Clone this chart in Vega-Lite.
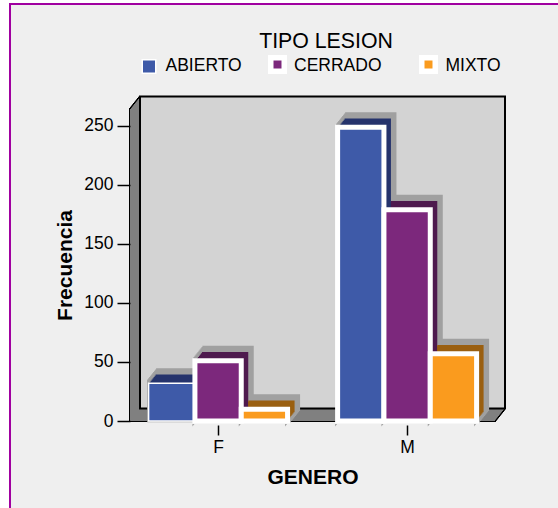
{"$schema":"https://vega.github.io/schema/vega-lite/v6.json","width":365,"height":312,"autosize":{"type":"none"},"padding":{"left":130,"top":109,"right":63,"bottom":87},"background":"white","config":{"font":"Liberation Sans","view":{"stroke":null}},"datasets":{"plano":[{"plano":"pared"}],"casos":[{"genero":"F","tipo":"ABIERTO","frecuencia":32},{"genero":"F","tipo":"CERRADO","frecuencia":51},{"genero":"F","tipo":"MIXTO","frecuencia":10},{"genero":"M","tipo":"ABIERTO","frecuencia":249},{"genero":"M","tipo":"CERRADO","frecuencia":179},{"genero":"M","tipo":"MIXTO","frecuencia":57}]},"layer":[{"data":{"name":"plano"},"encoding":{"x":{"datum":0.534,"type":"quantitative","scale":{"domain":[0.534,2.465]}},"x2":{"datum":2.465},"y":{"datum":0,"type":"quantitative","scale":{"domain":[0,264.4]}},"y2":{"datum":264.4}},"layer":[{"mark":{"type":"rect","fill":"#efefef","stroke":"#a000a0","strokeWidth":2,"xOffset":-120,"x2Offset":100,"yOffset":100,"y2Offset":-105}},{"mark":{"type":"rect","fill":"#808080","stroke":"#000","strokeWidth":2}},{"mark":{"type":"rect","fill":"#808080","stroke":"#000","strokeWidth":2,"xOffset":1,"x2Offset":1,"yOffset":-1.25,"y2Offset":-1.25}},{"mark":{"type":"rect","fill":"#808080","stroke":"#000","strokeWidth":2,"xOffset":2,"x2Offset":2,"yOffset":-2.5,"y2Offset":-2.5}},{"mark":{"type":"rect","fill":"#808080","stroke":"#000","strokeWidth":2,"xOffset":3,"x2Offset":3,"yOffset":-3.75,"y2Offset":-3.75}},{"mark":{"type":"rect","fill":"#808080","stroke":"#000","strokeWidth":2,"xOffset":4,"x2Offset":4,"yOffset":-5,"y2Offset":-5}},{"mark":{"type":"rect","fill":"#808080","stroke":"#000","strokeWidth":2,"xOffset":5,"x2Offset":5,"yOffset":-6.25,"y2Offset":-6.25}},{"mark":{"type":"rect","fill":"#808080","stroke":"#000","strokeWidth":2,"xOffset":6,"x2Offset":6,"yOffset":-7.5,"y2Offset":-7.5}},{"mark":{"type":"rect","fill":"#808080","stroke":"#000","strokeWidth":2,"xOffset":7,"x2Offset":7,"yOffset":-8.75,"y2Offset":-8.75}},{"mark":{"type":"rect","fill":"#808080","stroke":"#000","strokeWidth":2,"xOffset":8,"x2Offset":8,"yOffset":-10,"y2Offset":-10}},{"mark":{"type":"rect","fill":"#808080","stroke":"#000","strokeWidth":2,"xOffset":9,"x2Offset":9,"yOffset":-11.25,"y2Offset":-11.25}},{"mark":{"type":"rect","fill":"#808080"}},{"mark":{"type":"rect","fill":"#808080","xOffset":1,"x2Offset":1,"yOffset":-1.25,"y2Offset":-1.25}},{"mark":{"type":"rect","fill":"#808080","xOffset":2,"x2Offset":2,"yOffset":-2.5,"y2Offset":-2.5}},{"mark":{"type":"rect","fill":"#808080","xOffset":3,"x2Offset":3,"yOffset":-3.75,"y2Offset":-3.75}},{"mark":{"type":"rect","fill":"#808080","xOffset":4,"x2Offset":4,"yOffset":-5,"y2Offset":-5}},{"mark":{"type":"rect","fill":"#808080","xOffset":5,"x2Offset":5,"yOffset":-6.25,"y2Offset":-6.25}},{"mark":{"type":"rect","fill":"#808080","xOffset":6,"x2Offset":6,"yOffset":-7.5,"y2Offset":-7.5}},{"mark":{"type":"rect","fill":"#808080","xOffset":7,"x2Offset":7,"yOffset":-8.75,"y2Offset":-8.75}},{"mark":{"type":"rect","fill":"#808080","xOffset":8,"x2Offset":8,"yOffset":-10,"y2Offset":-10}},{"mark":{"type":"rect","fill":"#808080","xOffset":9,"x2Offset":9,"yOffset":-11.25,"y2Offset":-11.25}},{"mark":{"type":"rect","fill":"#d3d3d3","stroke":"#000","strokeWidth":2,"xOffset":10,"x2Offset":10,"yOffset":-12.5,"y2Offset":-12.5}}]},{"data":{"name":"casos"},"transform":[{"calculate":"(datum.genero==='F'?1:2)+(datum.tipo==='ABIERTO'?-1:datum.tipo==='CERRADO'?0:1)*0.2451","as":"centro"},{"calculate":"datum.centro-0.12255","as":"inicio"},{"calculate":"datum.centro+0.12255","as":"fin"}],"encoding":{"x":{"field":"inicio","type":"quantitative","scale":{"domain":[0.534,2.465],"nice":false,"zero":false},"axis":{"title":"GENERO","values":[1,2],"labelExpr":"datum.value===1?'F':'M'","grid":false,"titleFontSize":21,"titleFontWeight":"bold","titleColor":"#000","titlePadding":11,"labelFontSize":17.5,"labelColor":"#000","labelAngle":0,"labelPadding":3,"labelFlush":false,"tickColor":"#000","tickSize":10,"tickWidth":1.5,"domain":false,"offset":4,"zindex":1}},"x2":{"field":"fin"},"y":{"field":"frecuencia","type":"quantitative","scale":{"domain":[0,264.4],"nice":false},"axis":{"title":"Frecuencia","titleFontSize":21,"titleFontWeight":"bold","titleColor":"#000","titlePadding":8,"labelFontSize":17.5,"labelColor":"#000","labelPadding":4,"tickColor":"#000","tickSize":13,"tickWidth":1.5,"values":[0,50,100,150,200,250],"grid":false,"domain":false,"zindex":1}},"y2":{"datum":0}},"layer":[{"mark":{"type":"rect","stroke":"#a0a0a0","strokeWidth":5,"fill":"#a0a0a0","xOffset":1,"x2Offset":1,"yOffset":-1.25,"y2Offset":-1.25}},{"mark":{"type":"rect","stroke":"#a0a0a0","strokeWidth":5,"fill":"#a0a0a0","xOffset":2,"x2Offset":2,"yOffset":-2.5,"y2Offset":-2.5}},{"mark":{"type":"rect","stroke":"#a0a0a0","strokeWidth":5,"fill":"#a0a0a0","xOffset":3,"x2Offset":3,"yOffset":-3.75,"y2Offset":-3.75}},{"mark":{"type":"rect","stroke":"#a0a0a0","strokeWidth":5,"fill":"#a0a0a0","xOffset":4,"x2Offset":4,"yOffset":-5,"y2Offset":-5}},{"mark":{"type":"rect","stroke":"#a0a0a0","strokeWidth":5,"fill":"#a0a0a0","xOffset":5,"x2Offset":5,"yOffset":-6.25,"y2Offset":-6.25}},{"mark":{"type":"rect","stroke":"#a0a0a0","strokeWidth":5,"fill":"#a0a0a0","xOffset":6,"x2Offset":6,"yOffset":-7.5,"y2Offset":-7.5}},{"mark":{"type":"rect","stroke":"#a0a0a0","strokeWidth":5,"fill":"#a0a0a0","xOffset":7,"x2Offset":7,"yOffset":-8.75,"y2Offset":-8.75}},{"mark":{"type":"rect","stroke":"#a0a0a0","strokeWidth":5,"fill":"#a0a0a0","xOffset":8,"x2Offset":8,"yOffset":-10,"y2Offset":-10}},{"mark":{"type":"rect","stroke":"#a0a0a0","strokeWidth":5,"fill":"#a0a0a0","xOffset":9,"x2Offset":9,"yOffset":-11.25,"y2Offset":-11.25}},{"mark":{"type":"rect","stroke":"#a0a0a0","strokeWidth":5,"fill":"#a0a0a0","xOffset":10,"x2Offset":10,"yOffset":-12.5,"y2Offset":-12.5}},{"encoding":{"fill":{"condition":[{"test":"datum.tipo==='ABIERTO'","value":"#25336c"},{"test":"datum.tipo==='CERRADO'","value":"#4e1a4e"}],"value":"#9a5f10"}},"layer":[{"mark":{"type":"rect","xOffset":1,"x2Offset":1,"yOffset":-1.25,"y2Offset":-1.25}},{"mark":{"type":"rect","xOffset":2,"x2Offset":2,"yOffset":-2.5,"y2Offset":-2.5}},{"mark":{"type":"rect","xOffset":3,"x2Offset":3,"yOffset":-3.75,"y2Offset":-3.75}},{"mark":{"type":"rect","xOffset":4,"x2Offset":4,"yOffset":-5,"y2Offset":-5}},{"mark":{"type":"rect","xOffset":5,"x2Offset":5,"yOffset":-6.25,"y2Offset":-6.25}},{"mark":{"type":"rect","xOffset":6,"x2Offset":6,"yOffset":-7.5,"y2Offset":-7.5}},{"mark":{"type":"rect","xOffset":7,"x2Offset":7,"yOffset":-8.75,"y2Offset":-8.75}}]},{"mark":{"type":"rect","stroke":"white"},"encoding":{"fill":{"field":"tipo","type":"nominal","scale":{"domain":["ABIERTO","CERRADO","MIXTO"],"range":["#3e5aa8","#7c287c","#fa9b1e"]},"legend":{"orient":"none","legendX":10,"legendY":-78,"direction":"horizontal","title":"TIPO LESION","titleAnchor":"middle","titleFontSize":21.3,"titleFontWeight":"normal","titleColor":"#000","titlePadding":3,"labelFontSize":17.5,"labelColor":"#000","symbolType":"square","symbolSize":182,"symbolStrokeColor":"white","symbolOpacity":1,"columnPadding":17.5,"labelOffset":8,"encoding":{"title":{"dx":{"value":6}},"labels":{"dx":{"value":{"expr":"datum.value==='MIXTO'?20:0"}},"dy":{"value":{"expr":"datum.value==='ABIERTO'?-4.5:1.5"}}},"symbols":{"x":{"value":{"expr":"datum.value==='MIXTO'?28.5:9"}},"y":{"value":{"expr":"datum.value==='ABIERTO'?5:9"}},"stroke":{"value":"white"},"strokeWidth":{"value":{"expr":"datum.value==='ABIERTO'?1.5:5.5"}}}}}},"strokeWidth":{"condition":{"test":"datum.genero==='F'&&datum.tipo==='ABIERTO'","value":1.5},"value":5}}},{"mark":{"type":"point","shape":"M0,0L1,0L0,1.3Z","filled":true,"fill":"#a0a0a0","opacity":1,"size":16,"xOffset":-2.5,"yOffset":3},"encoding":{"x":{"field":"fin","type":"quantitative"},"x2":null,"y":{"datum":0,"type":"quantitative"},"y2":null}},{"transform":[{"filter":"datum.genero==='M'&&datum.tipo==='ABIERTO'"}],"mark":{"type":"point","shape":"M0,0L1,0L0,1.3Z","filled":true,"fill":"#a0a0a0","opacity":1,"size":16,"xOffset":-2.5,"yOffset":3},"encoding":{"x":{"field":"inicio","type":"quantitative"},"x2":null,"y":{"datum":0,"type":"quantitative"},"y2":null}}]}]}
